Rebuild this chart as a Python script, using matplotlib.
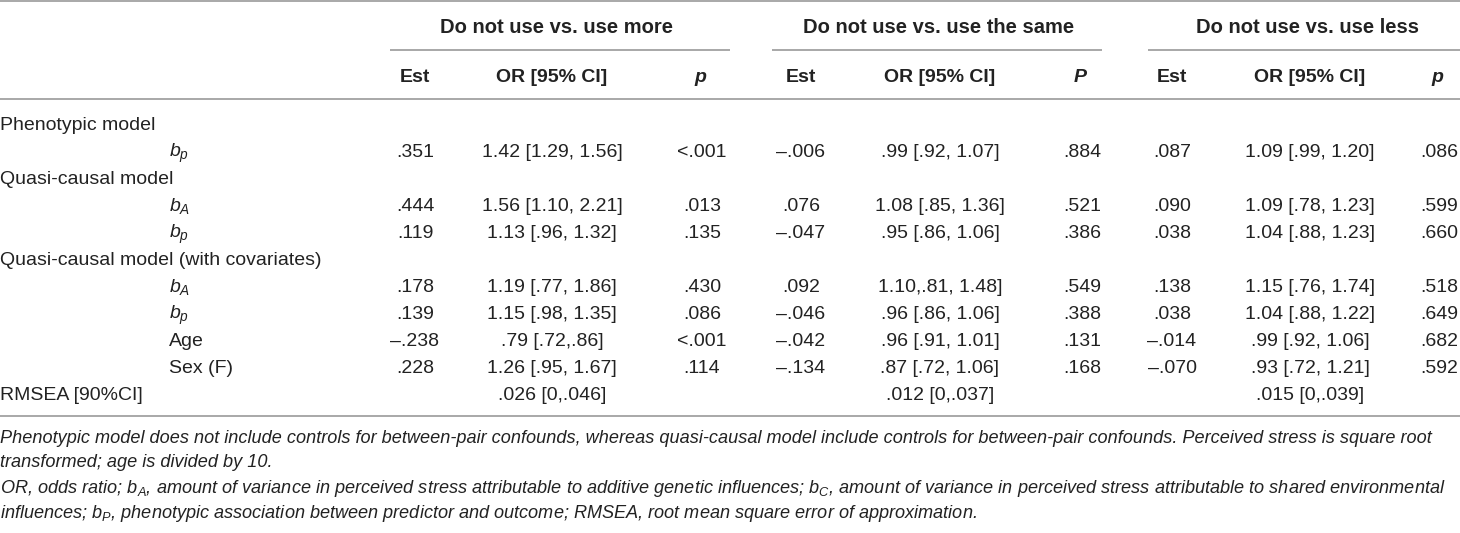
import matplotlib
matplotlib.use("Agg")
import matplotlib.pyplot as plt

plt.rcParams["font.family"] = ["Liberation Sans", "DejaVu Sans"]
plt.rcParams["mathtext.fontset"] = "custom"
plt.rcParams["mathtext.rm"] = "Liberation Sans"
plt.rcParams["mathtext.it"] = "Liberation Sans:italic"
plt.rcParams["mathtext.bf"] = "Liberation Sans:bold"

# === Table content ===
groups = ["Do not use vs. use more", "Do not use vs. use the same", "Do not use vs. use less"]
sub_headers = ["Est", "OR [95% CI]"]
p_headers = ["p", "P", "p"]

row_labels = [
    "Phenotypic model", "$b_p$", "Quasi-causal model", "$b_A$", "$b_p$",
    "Quasi-causal model (with covariates)", "$b_A$", "$b_p$", "Age", "Sex (F)",
    "RMSEA [90%CI]",
]
row_indent = [False, True, False, True, True, False, True, True, True, True, False]
data_rows = [1, 3, 4, 6, 7, 8, 9]

est_more = [".351", ".444", ".119", ".178", ".139", "\u2013.238", ".228"]
or_more = ["1.42 [1.29, 1.56]", "1.56 [1.10, 2.21]", "1.13 [.96, 1.32]", "1.19 [.77, 1.86]",
           "1.15 [.98, 1.35]", ".79 [.72,.86]", "1.26 [.95, 1.67]"]
p_more = ["<.001", ".013", ".135", ".430", ".086", "<.001", ".114"]

est_same = ["\u2013.006", ".076", "\u2013.047", ".092", "\u2013.046", "\u2013.042", "\u2013.134"]
or_same = [".99 [.92, 1.07]", "1.08 [.85, 1.36]", ".95 [.86, 1.06]", "1.10,.81, 1.48]",
           ".96 [.86, 1.06]", ".96 [.91, 1.01]", ".87 [.72, 1.06]"]
p_same = [".884", ".521", ".386", ".549", ".388", ".131", ".168"]

est_less = [".087", ".090", ".038", ".138", ".038", "\u2013.014", "\u2013.070"]
or_less = ["1.09 [.99, 1.20]", "1.09 [.78, 1.23]", "1.04 [.88, 1.23]", "1.15 [.76, 1.74]",
           "1.04 [.88, 1.22]", ".99 [.92, 1.06]", ".93 [.72, 1.21]"]
p_less = [".086", ".599", ".660", ".518", ".649", ".682", ".592"]

rmsea = [".026 [0,.046]", ".012 [0,.037]", ".015 [0,.039]"]

footnotes = [
    "Phenotypic model does not include controls for between-pair confounds, whereas quasi-causal model "
    "include controls for between-pair confounds. Perceived stress is square root",
    "transformed; age is divided by 10.",
    "OR, odds ratio; $b_A$, amount of variance in perceived stress attributable to additive genetic "
    "influences; $b_C$, amount of variance in perceived stress attributable to shared environmental",
    "influences; $b_P$, phenotypic association between predictor and outcome; RMSEA, root mean "
    "square error of approximation.",
]

# === Layout (pixel coordinates) ===
W, H = 1460, 533
est_x = [415, 801, 1172]
or_x = [552, 940, 1310]
p_x = [702, 1082, 1439]
group_span = [(390, 730), (772, 1102), (1148, 1460)]
row_y0, row_step = 130, 27
fs = 14
color = "#222222"
rule_color = "#9a9a9a"

fig = plt.figure(figsize=(W / 100, H / 100), dpi=100)
ax = fig.add_axes([0, 0, 1, 1])
ax.set_xlim(0, W)
ax.set_ylim(H, 0)
ax.axis("off")

# rules
for y in [1, 99, 416]:
    ax.plot([0, W], [y, y], color=rule_color, lw=1.2, solid_capstyle="butt")
for x0, x1 in group_span:
    ax.plot([x0, x1], [50, 50], color=rule_color, lw=1.2, solid_capstyle="butt")

# headers
for i, g in enumerate(groups):
    cx = (or_x[i] + (group_span[i][0] + group_span[i][1]) / 2) / 2
    ax.text(cx, 33, g, ha="center", va="baseline", fontsize=14.5, fontweight="bold", color=color)
    ax.text(est_x[i], 82, sub_headers[0], ha="center", va="baseline", fontsize=fs,
            fontweight="bold", color=color)
    ax.text(or_x[i], 82, sub_headers[1], ha="center", va="baseline", fontsize=fs,
            fontweight="bold", color=color)
    ax.text(p_x[i] - 2, 82, p_headers[i], ha="center", va="baseline", fontsize=fs,
            fontweight="bold", style="italic", color=color)

# row labels
for r, lab in enumerate(row_labels):
    x = 169 if row_indent[r] else 0
    ax.text(x, row_y0 + r * row_step, lab, ha="left", va="baseline", fontsize=fs, color=color)

# body
cols = [(est_more, or_more, p_more), (est_same, or_same, p_same), (est_less, or_less, p_less)]
for g, (est, orci, pv) in enumerate(cols):
    for k, r in enumerate(data_rows):
        y = row_y0 + r * row_step
        ax.text(est_x[g], y, est[k], ha="center", va="baseline", fontsize=fs, color=color)
        ax.text(or_x[g], y, orci[k], ha="center", va="baseline", fontsize=fs, color=color)
        ax.text(p_x[g], y, pv[k], ha="center", va="baseline", fontsize=fs, color=color)
    ax.text(or_x[g], row_y0 + 10 * row_step, rmsea[g], ha="center", va="baseline",
            fontsize=fs, color=color)

# footnotes
for y, line in zip([443, 467, 493, 518], footnotes):
    ax.text(0, y, line, ha="left", va="baseline", fontsize=13.1, style="italic", color=color)

fig.savefig("out.png", dpi=100)
